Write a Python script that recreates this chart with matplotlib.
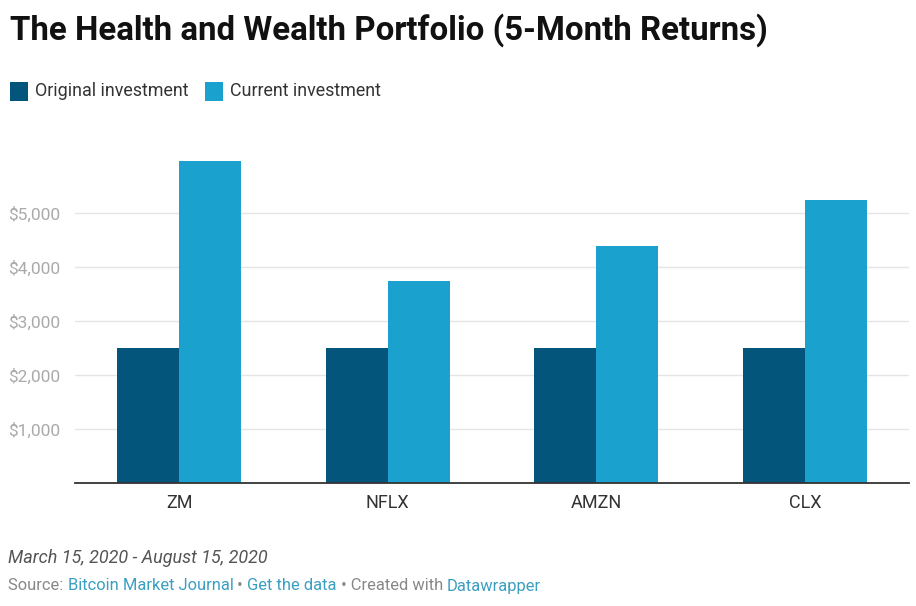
import matplotlib
matplotlib.use("Agg")
import matplotlib.pyplot as plt
from matplotlib.patches import Rectangle
from matplotlib.ticker import FuncFormatter
import numpy as np

plt.rcParams['font.family'] = ['Roboto', 'DejaVu Sans']

categories = ["ZM", "NFLX", "AMZN", "CLX"]
original = [2500, 2500, 2500, 2500]
current = [5970, 3740, 4390, 5240]
series_names = ["Original investment", "Current investment"]
yticks = [1000, 2000, 3000, 4000, 5000]

c_orig = "#03557b"
c_cur = "#1aa1cd"

W, H = 916, 606
fig = plt.figure(figsize=(W/100, H/100), dpi=100)
fig.patch.set_facecolor("white")

ax_left, ax_right = 75, 909
ax_top, ax_bottom = 140, 483
ax = fig.add_axes([ax_left/W, 1-ax_bottom/H, (ax_right-ax_left)/W, (ax_bottom-ax_top)/H])

x = np.arange(len(categories))
bw = 0.297
ax.bar(x - bw/2, original, width=bw, color=c_orig, zorder=3, linewidth=0)
ax.bar(x + bw/2, current, width=bw, color=c_cur, zorder=3, linewidth=0)

ax.set_xlim(-0.5, len(categories)-0.5)
ax.set_ylim(0, (ax_bottom-ax_top)/54*1000)
ax.set_yticks(yticks)
ax.yaxis.set_major_formatter(FuncFormatter(lambda v, p: "${:,.0f}".format(v)))
ax.grid(axis='y', color="#e5e5e5", linewidth=1, zorder=0)
for s in ["top", "right", "left"]:
    ax.spines[s].set_visible(False)
ax.spines["bottom"].set_color("#333333")
ax.spines["bottom"].set_linewidth(1.3)
ax.spines["bottom"].set_zorder(4)
ax.tick_params(axis='y', length=0, labelsize=12.5, labelcolor="#aaaaaa", pad=0)
for lab in ax.get_yticklabels():
    lab.set_horizontalalignment("left")
    lab.set_x(-(ax_left-8)/(ax_right-ax_left))
ax.set_xticks(x)
ax.set_xticklabels(categories)
ax.tick_params(axis='x', length=0, labelsize=13, labelcolor="#333333", pad=8)

# Title
fig.text(10/W, 1-30/H, "The Health and Wealth Portfolio (5-Month Returns)",
         fontsize=23.75, fontweight="bold", color="#111111", va="center", ha="left")

# Legend
def legend_item(xp, color, label):
    fig.patches.append(Rectangle((xp/W, 1-101/H), 18/W, 19/H, transform=fig.transFigure,
                                 facecolor=color, edgecolor="none"))
    fig.text((xp+25)/W, 1-91/H, label, fontsize=12.9, color="#333333", va="center", ha="left")

legend_item(10, c_orig, series_names[0])
legend_item(205, c_cur, series_names[1])

# Footer
fig.text(8/W, 1-558/H, "March 15, 2020 - August 15, 2020", fontsize=13, style="italic",
         color="#555555", va="center", ha="left")

renderer = fig.canvas.get_renderer()
parts = [("Source: ", "#888888"), ("Bitcoin Market Journal", "#3a9fc1"), (" \u2022 ", "#888888"),
         ("Get the data", "#3a9fc1"), (" \u2022 Created with ", "#888888"), ("Datawrapper", "#3a9fc1")]
xpos = 8
for txt, col in parts:
    t = fig.text(xpos/W, 1-586/H, txt, fontsize=11.9, color=col, va="center", ha="left")
    bb = t.get_window_extent(renderer=renderer)
    xpos += bb.width

fig.savefig("out.png", dpi=100, facecolor="white")
